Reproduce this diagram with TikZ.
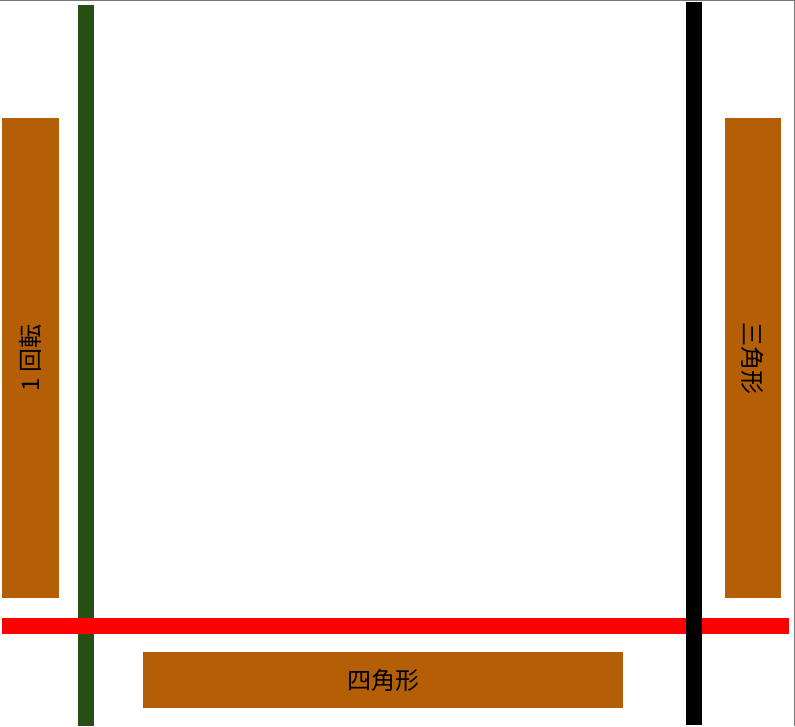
\documentclass[tikz,border=0pt]{standalone}
\usepackage{fontspec}
\newfontfamily\cjk{Noto Sans CJK JP}
\definecolor{barorange}{HTML}{B45F06}
\definecolor{bargreen}{HTML}{274E13}
\definecolor{framegray}{HTML}{777777}
\tikzset{
  label box/.style={fill=barorange, draw=none, inner sep=0pt, font=\cjk\fontsize{24}{27}\selectfont, text=black},
  box text/.style={font=\cjk\fontsize{24}{27}\selectfont, inner sep=0pt}
}
\begin{document}
\begin{tikzpicture}[x=1pt,y=-1pt]
\useasboundingbox (0,0) rectangle (795,726);
% frame edges
\draw[framegray, line width=1.5pt] (0,0.5) -- (794.5,0.5) -- (794.5,726);
% green vertical bar
\fill[bargreen] (78,5) rectangle (94,726);
% orange boxes
\node[label box, minimum width=57pt, minimum height=480pt] (left) at (30.5,358) {};
\node[box text, rotate=90] (lefttext) at (left.center) {1 回転};
\node[label box, minimum width=56pt, minimum height=480pt] (right) at (753,358) {};
\node[box text, rotate=-90] (righttext) at (right.center) {三角形};
\node[label box, minimum width=480pt, minimum height=56pt] (bottom) at (383,680) {四角形};
% red bar (over green)
\fill[red] (2,618) rectangle (789,634);
% black vertical bar (over red)
\fill[black] (686,2) rectangle (702,725);
\end{tikzpicture}
\end{document}
